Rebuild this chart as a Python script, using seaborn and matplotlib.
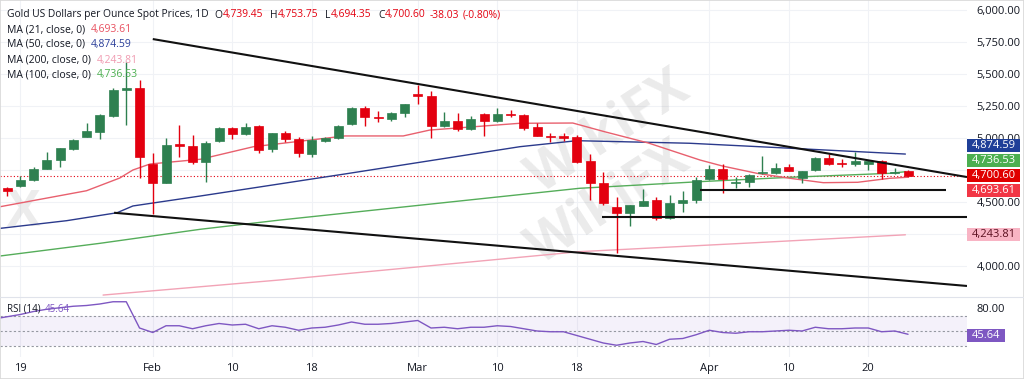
import matplotlib
matplotlib.use("Agg")
import matplotlib.pyplot as plt
import seaborn as sns
import numpy as np
import pandas as pd
from matplotlib.patches import Rectangle
from matplotlib.lines import Line2D

# ---------------- data ----------------
opens = [4612, 4625, 4672, 4760, 4830, 4915, 5010, 5050, 5175, 5375,
         5393, 4795, 4650, 4950, 4937, 4810, 4977, 5080, 5030, 5094,
         4912, 5042, 4992, 4875, 4980, 5002, 5107, 5237, 5162, 5150,
         5193, 5340, 5330, 5096, 5133, 5070, 5185, 5135, 5190, 5180,
         5084, 5012, 5010, 5010, 4823, 4651, 4463, 4416, 4471, 4516,
         4373, 4495, 4516, 4677, 4755, 4645, 4653, 4725, 4724, 4771,
         4690, 4750, 4841, 4805, 4795, 4795, 4823, 4724, 4739.45]
highs = [4620, 4700, 4770, 4888, 4925, 4990, 5115, 5185, 5390, 5595,
         5453, 4880, 5000, 5100, 5023, 4975, 5085, 5085, 5120, 5100,
         5040, 5055, 5005, 5016, 5010, 5100, 5240, 5250, 5213, 5205,
         5266, 5414, 5370, 5206, 5195, 5172, 5192, 5237, 5220, 5185,
         5120, 5037, 5040, 5025, 4873, 4737, 4542, 4480, 4602, 4542,
         4555, 4586, 4695, 4790, 4797, 4693, 4715, 4862, 4802, 4795,
         4745, 4850, 4875, 4834, 4888, 4826, 4826, 4768, 4753.75]
lows = [4550, 4620, 4662, 4755, 4775, 4905, 5005, 4990, 5165, 5100,
        4685, 4410, 4645, 4855, 4797, 4660, 4970, 4992, 5025, 4885,
        4893, 4965, 4850, 4855, 4970, 4990, 5105, 5095, 5127, 5133,
        5165, 5266, 4998, 5088, 5057, 5062, 5016, 5125, 5167, 5062,
        5015, 4971, 4975, 4805, 4516, 4477, 4104, 4312, 4465, 4359,
        4368, 4424, 4490, 4672, 4568, 4607, 4615, 4722, 4715, 4740,
        4646, 4745, 4790, 4776, 4785, 4750, 4677, 4720, 4694.35]
closes = [4588, 4672, 4760, 4828, 4920, 4985, 5055, 5180, 5375, 5390,
          4850, 4650, 4945, 4940, 4810, 4958, 5080, 5030, 5088, 4906,
          5036, 4990, 4880, 4984, 5002, 5096, 5237, 5162, 5155, 5198,
          5263, 5332, 5096, 5133, 5070, 5148, 5133, 5187, 5183, 5082,
          5018, 5008, 5005, 4815, 4651, 4495, 4412, 4477, 4510, 4373,
          4495, 4516, 4672, 4755, 4677, 4655, 4711, 4730, 4763, 4745,
          4742, 4846, 4795, 4800, 4823, 4823, 4724, 4737, 4700.60]

tick_idx = [1, 11, 17, 23, 31, 37, 43, 53, 59, 65]
tick_labels = ["19", "Feb", "10", "18", "Mar", "10", "18", "Apr", "10", "20"]

price_ticks = [4000, 4500, 5000, 5250, 5500, 5750, 6000]
grid_levels = [4000, 4250, 4500, 4750, 5000, 5250, 5500, 5750, 6000]

ma21_x = [-0.53, 6.0, 8.5, 9.5, 10.8, 14.6, 18.6, 25.5, 29.9, 31.9, 38.7, 42.7,
          45.1, 48.4, 52.3, 54.0, 56.6, 59.1, 61.6, 64.2, 66.6, 68.0]
ma21_y = [4463, 4588, 4687, 4750, 4797, 4834, 4932, 5016, 5016, 5062, 5115, 5117,
          5049, 4961, 4828, 4781, 4724, 4685, 4651, 4654, 4685, 4693.61]
ma50_x = [-0.53, 4.5, 8.3, 9.5, 14.6, 25.5, 38.7, 43.0, 51.5, 59.1, 67.8]
ma50_y = [4294, 4354, 4416, 4469, 4547, 4719, 4932, 4979, 4959, 4920, 4874.59]
ma100_x = [-0.53, 7.0, 14.6, 20.6, 43.2, 52.3, 59.1, 66.6, 67.8]
ma100_y = [4078, 4177, 4287, 4359, 4607, 4659, 4693, 4724, 4736.53]
ma200_x = [7.25, 14.6, 20.6, 43.2, 56.1, 67.8]
ma200_y = [3773, 3838, 3891, 4112, 4180, 4243.81]

rsi_x = list(range(-1, 69))
rsi_vals = [66, 69, 72, 76, 79, 81, 83, 84, 86, 89, 89, 54, 48, 57, 57, 53, 57, 60,
            58, 59, 53, 57, 55, 51, 54, 55, 58, 62, 59, 59, 60, 62, 64, 54, 55, 53,
            55, 55, 57, 56, 53, 50, 49, 49, 44, 39, 34, 31, 34, 36, 32, 39, 40, 45,
            51, 48, 47, 49, 49, 50, 51, 50, 55, 53, 53, 54, 54, 49, 50, 45.64]

upper_trend_x = [11.0, 72.45]
upper_trend_y = [5773, 4695]
lower_trend_x = [8.08, 72.45]
lower_trend_y = [4416, 3844]
support1_x = [52.3, 70.9]
support1_y = [4590, 4590]
support2_x = [44.9, 72.45]
support2_y = [4383, 4383]

last_price = 4700.60

# ---------------- style ----------------
sns.set_theme(style="white")
plt.rcParams["font.family"] = ["Open Sans", "DejaVu Sans"]

W, H = 1024, 379
fig = plt.figure(figsize=(W / 100, H / 100), dpi=100)
fig.patch.set_facecolor("white")

def fx(x):
    return x / W

def fy(y):
    return 1 - y / H

PLOT_R = 967
ax = fig.add_axes([0, fy(296), fx(PLOT_R), 296 / H])
ax_r = fig.add_axes([0, fy(357), fx(PLOT_R), 61 / H])

GREEN = "#2e8050"
RED = "#e3000f"
DARK = "#131722"
GRID = "#f0f2f6"

XMIN, XMAX = -0.53, 72.45

# grid
for v in grid_levels:
    ax.axhline(v, color=GRID, lw=0.8, zorder=0)
for t in tick_idx:
    ax.axvline(t, color=GRID, lw=0.8, zorder=0)
    ax_r.axvline(t, color=GRID, lw=0.8, zorder=0)

# watermarks (behind data)
ax.text(0.63, 0.55, "WikiFX", transform=ax.transAxes, rotation=33, fontsize=38,
        fontweight="bold", color="#9a9a9a", alpha=0.2, ha="center", va="center", zorder=0)
ax.text(0.63, 0.31, "WikiFX", transform=ax.transAxes, rotation=33, fontsize=38,
        fontweight="bold", color="#9a9a9a", alpha=0.2, ha="center", va="center", zorder=0)
ax.text(0.024, 0.28, "X", transform=ax.transAxes, fontsize=36,
        fontweight="bold", color="#9a9a9a", alpha=0.18, ha="center", va="center", zorder=0)

# moving averages
sns.lineplot(x=ma200_x, y=ma200_y, ax=ax, color="#f2a3b6", lw=1.0, zorder=2)
sns.lineplot(x=ma100_x, y=ma100_y, ax=ax, color="#55ad5a", lw=1.0, zorder=2)
sns.lineplot(x=ma50_x, y=ma50_y, ax=ax, color="#2b3a8c", lw=1.0, zorder=2)
sns.lineplot(x=ma21_x, y=ma21_y, ax=ax, color="#e8606e", lw=1.0, zorder=2)

# current price dotted line
ax.axhline(last_price, color=RED, lw=0.8, ls=(0, (1, 2)), zorder=1)

# candles
idx = np.arange(len(opens))
o = np.array(opens); h = np.array(highs); l = np.array(lows); c = np.array(closes)
cols = [GREEN if cc >= oo else RED for oo, cc in zip(o, c)]
ax.vlines(idx, l, h, colors=cols, lw=1.0, zorder=3)
bottoms = np.minimum(o, c)
heights = np.maximum(np.abs(c - o), 9)
bottoms = np.where(np.abs(c - o) < 9, (o + c) / 2 - 4.5, bottoms)
ax.bar(idx, heights, bottom=bottoms, width=0.68, color=cols, edgecolor=cols, lw=0.5, zorder=4)

# trend lines
for xs, ys in [(upper_trend_x, upper_trend_y), (lower_trend_x, lower_trend_y),
               (support1_x, support1_y), (support2_x, support2_y)]:
    ax.plot(xs, ys, color="#111111", lw=1.5, zorder=5, solid_capstyle="butt")

ax.set_xlim(XMIN, XMAX)
ax.set_ylim(6000 - 286 * 7.8125, 6000 + 10 * 7.8125)
ax.yaxis.tick_right()
ax.set_yticks(price_ticks)
ax.set_yticklabels([f"{v:,.2f}" for v in price_ticks])
ax.tick_params(axis="y", length=0, pad=7, labelsize=8, labelcolor=DARK)
ax.set_xticks([])
ax.set_xlabel(""); ax.set_ylabel("")
for s in ax.spines.values():
    s.set_visible(False)

# RSI pane
ax_r.axhspan(30, 70, color="#7e57c2", alpha=0.08, lw=0, zorder=0)
for lvl in (70, 50, 30):
    ax_r.axhline(lvl, color="#9598a1", lw=0.8, ls=(0, (2, 2)), zorder=1)
sns.lineplot(x=rsi_x, y=rsi_vals, ax=ax_r, color="#7e57c2", lw=1.0, zorder=3)
ax_r.set_xlim(XMIN, XMAX)
ax_r.set_ylim(50 - 26 / 0.75, 50 + 35 / 0.75)
ax_r.yaxis.tick_right()
ax_r.set_yticks([80])
ax_r.set_yticklabels(["80.00"])
ax_r.tick_params(axis="y", length=0, pad=7, labelsize=8, labelcolor=DARK)
ax_r.set_xticks(tick_idx)
ax_r.set_xticklabels(tick_labels)
ax_r.tick_params(axis="x", length=0, pad=4, labelsize=8, labelcolor=DARK)
ax_r.set_xlabel(""); ax_r.set_ylabel("")
for s in ax_r.spines.values():
    s.set_visible(False)

# separators and border
fig.add_artist(Line2D([0, 1], [fy(296.5), fy(296.5)], color="#e0e3eb", lw=0.8))
fig.add_artist(Rectangle((0, 0), 1, 1, fill=False, ec="#d8d8d8", lw=1.2, transform=fig.transFigure))

# price tags
def tag(yc, text, bg, fg="white", x0=967, x1=1020, hgt=13):
    fig.add_artist(Rectangle((fx(x0), fy(yc + hgt / 2)), fx(x1 - x0), hgt / H,
                             transform=fig.transFigure, facecolor=bg, edgecolor="none", zorder=5))
    fig.text(fx(x0 + 5), fy(yc), text, color=fg, fontsize=8, ha="left", va="center", zorder=6)

tag(145.5, "4,874.59", "#1f3f98")
tag(160.5, "4,736.53", "#4caf50")
tag(175.5, "4,700.60", "#e00000")
tag(190.5, "4,693.61", "#f23645")
tag(234.0, "4,243.81", "#f8b4c4", fg="#5a1020")
tag(335.0, "45.64", "#7e57c2", x1=1005)

# legend texts
fig.canvas.draw()
renderer = fig.canvas.get_renderer()

def runs(x, y, parts, size=7.5):
    for txt, col, gap in parts:
        t = fig.text(fx(x), fy(y), txt, color=col, fontsize=size, ha="left", va="center")
        bb = t.get_window_extent(renderer)
        x = bb.x1 + gap

TRED = "#e3000f"
runs(7, 15, [("Gold US Dollars per Ounce Spot Prices, 1D", DARK, 6),
             ("O", DARK, 0), ("4,739.45", TRED, 7),
             ("H", DARK, 0), ("4,753.75", TRED, 7),
             ("L", DARK, 0), ("4,694.35", TRED, 7),
             ("C", DARK, 0), ("4,700.60", TRED, 4),
             ("-38.03", TRED, 4), ("(-0.80%)", TRED, 0)], size=7.4)
runs(7, 29.5, [("MA (21, close, 0)", DARK, 6), ("4,693.61", "#e8505f", 0)])
runs(7, 44.5, [("MA (50, close, 0)", DARK, 6), ("4,874.59", "#2b3f9a", 0)])
runs(7, 60, [("MA (200, close, 0)", DARK, 6), ("4,243.81", "#f09ab0", 0)])
runs(7, 75, [("MA (100, close, 0)", DARK, 6), ("4,736.53", "#4caf50", 0)])
runs(7, 309, [("RSI (14)", DARK, 4), ("45.64", "#7e57c2", 0)], size=7)

fig.savefig("out.png", dpi=100)
